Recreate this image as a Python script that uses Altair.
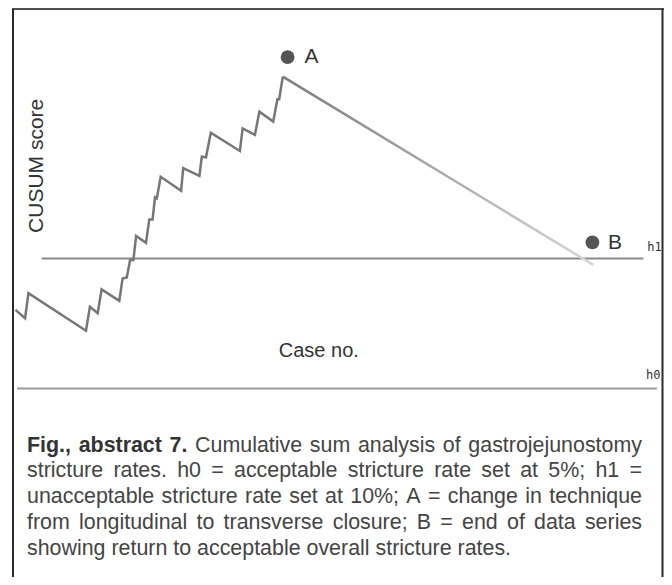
import altair as alt
import pandas as pd

# ---- data (x: case number, y: CUSUM score) ----
case_no = [-0.4, 2.8, 3.9, 23.1, 24.4, 27.0, 28.3, 34.2, 35.3, 36.7, 37.8, 38.9,
           39.8, 43.1, 44.2, 45.3, 46.1, 46.7, 48.0, 54.8, 55.5, 60.9, 61.7, 63.1,
           64.7, 74.4, 75.3, 79.4, 80.9, 85.5, 86.9, 87.5, 88.7, 192.2]
cusum = [0.52, 0.20, 1.16, -0.28, 0.64, 0.39, 1.31, 0.87, 1.73, 1.77, 2.44, 2.44,
         3.36, 3.10, 4.00, 4.00, 4.85, 4.81, 5.64, 5.10, 5.97, 5.67, 6.41, 6.39,
         7.33, 6.63, 7.50, 7.25, 8.14, 7.76, 8.62, 8.62, 9.49, 2.25]
peak_index = 32

limit_names = ["h1", "h0"]
limit_values = [2.5, -2.5]
limit_start = [8.3, 0.1]
limit_end = [208.9, 213.4]
limit_label_x = [210.2, 209.8]
limit_label_y = [2.95, -1.97]

marker_names = ["A", "B"]
marker_x = [90.3, 191.9]
marker_y = [10.24, 3.12]
marker_label_x = [95.9, 197.1]
marker_label_y = [10.23, 3.11]

x_title = "Case no."
y_title = "CUSUM score"

caption_lines = [
    [("Fig.,", True), ("abstract", True), ("7.", True), ("Cumulative", False),
     ("sum", False), ("analysis", False), ("of", False), ("gastrojejunostomy", False)],
    [(w, False) for w in "stricture rates. h0 = acceptable stricture rate set at 5%; h1 =".split()],
    [(w, False) for w in "unacceptable stricture rate set at 10%; A = change in technique".split()],
    [(w, False) for w in "from longitudinal to transverse closure; B = end of data series".split()],
    [(w, False) for w in "showing return to acceptable overall stricture rates.".split()],
]

# ---- layout ----
W, H = 650, 568
X_DOM = [-1.233, 215.433]
Y_DOM = [-9.754, 12.092]
FONT = "Liberation Sans"
CAP_SIZE = 21.4

REG = dict(zip("abcdefghijklmnopqrstuvwxyz",
               [556, 556, 500, 556, 556, 278, 556, 556, 222, 222, 500, 222, 833,
                556, 556, 556, 556, 333, 500, 278, 556, 500, 722, 500, 500, 500]))
REG.update({"A": 667, "B": 667, "C": 722, "F": 611, ".": 278, ",": 278, ";": 278,
            "=": 584, "%": 889, " ": 278})
REG.update({d: 556 for d in "0123456789"})
BOLD = {"F": 611, "i": 278, "g": 611, ".": 278, ",": 278, "a": 556, "b": 611,
        "s": 556, "t": 333, "r": 389, "c": 556, "7": 556, " ": 278}


def width(word, bold):
    table = BOLD if bold else REG
    return sum(table.get(ch, 556) for ch in word) / 1000.0 * CAP_SIZE


left_px, right_px = 14.0, 629.0
base_y = [442.5, 468.4, 494.3, 520.2, 546.1]
rows = []
for i, line in enumerate(caption_lines):
    widths = [width(w, b) for w, b in line]
    if i < len(caption_lines) - 1:
        gap = (right_px - left_px - sum(widths)) / (len(line) - 1)
    else:
        gap = 0.278 * CAP_SIZE
    x = left_px
    for (w, b), wd in zip(line, widths):
        rows.append({"word": w, "bold": b, "px": x, "py": base_y[i]})
        x += wd + gap
cap_df = pd.DataFrame(rows)

xs = alt.Scale(domain=X_DOM, nice=False, zero=False)
ys = alt.Scale(domain=Y_DOM, nice=False, zero=False)

one = pd.DataFrame({"k": [0]})

border_top = alt.Chart(one).mark_rule(color="#505050", strokeWidth=2).encode(
    x=alt.value(-1), x2=alt.value(W + 1), y=alt.value(0))
border_left = alt.Chart(one).mark_rule(color="#2a2a2a", strokeWidth=2).encode(
    x=alt.value(0), y=alt.value(0), y2=alt.value(H))
border_right = alt.Chart(one).mark_rule(color="#2a2a2a", strokeWidth=2).encode(
    x=alt.value(W - 0.5), y=alt.value(0), y2=alt.value(H))

lim_df = pd.DataFrame({"name": limit_names, "value": limit_values,
                       "start": limit_start, "end": limit_end,
                       "lx": limit_label_x, "ly": limit_label_y})
h_rules = alt.Chart(lim_df).mark_rule(strokeWidth=2).encode(
    x=alt.X("start:Q", scale=xs, axis=None),
    x2="end:Q",
    y=alt.Y("value:Q", scale=ys, axis=None),
    color=alt.Color("name:N", scale=alt.Scale(domain=["h1", "h0"],
                                              range=["#8a8a8a", "#9c9c9c"]),
                    legend=None),
)
h_labels = alt.Chart(lim_df).mark_text(
    align="left", baseline="middle", font="DejaVu Sans Mono", fontSize=12,
    color="#333333").encode(
    x=alt.X("lx:Q", scale=xs, axis=None),
    y=alt.Y("ly:Q", scale=ys, axis=None),
    text="name:N",
)

df = pd.DataFrame({"case": case_no, "score": cusum})
before = df.iloc[: peak_index + 1]
after = df.iloc[peak_index:]

line_before = alt.Chart(before).mark_line(color="#767676", strokeWidth=2.5,
                                          strokeJoin="miter").encode(
    x=alt.X("case:Q", scale=xs, axis=None),
    y=alt.Y("score:Q", scale=ys, axis=None),
)
line_after = alt.Chart(after).mark_line(
    strokeWidth=2.5,
    color=alt.Gradient(gradient="linear",
                       stops=[alt.GradientStop(color="#7c7c7c", offset=0),
                              alt.GradientStop(color="#d6d6d6", offset=1)],
                       x1=0, x2=1, y1=0, y2=0),
).encode(
    x=alt.X("case:Q", scale=xs, axis=None),
    y=alt.Y("score:Q", scale=ys, axis=None),
)

mk_df = pd.DataFrame({"name": marker_names, "x": marker_x, "y": marker_y,
                      "lx": marker_label_x, "ly": marker_label_y})
dots = alt.Chart(mk_df).mark_circle(size=190, color="#555555", opacity=1).encode(
    x=alt.X("x:Q", scale=xs, axis=None),
    y=alt.Y("y:Q", scale=ys, axis=None),
)
dot_labels = alt.Chart(mk_df).mark_text(
    align="left", baseline="middle", font=FONT, fontSize=21,
    color="#333333").encode(
    x=alt.X("lx:Q", scale=xs, axis=None),
    y=alt.Y("ly:Q", scale=ys, axis=None),
    text="name:N",
)

titles_df = pd.DataFrame({"t": [x_title], "x": [100.7], "y": [-1.05]})
x_title_mark = alt.Chart(titles_df).mark_text(
    align="center", baseline="middle", font=FONT, fontSize=20,
    color="#333333").encode(
    x=alt.X("x:Q", scale=xs, axis=None),
    y=alt.Y("y:Q", scale=ys, axis=None),
    text="t:N",
)
ytitle_df = pd.DataFrame({"t": [y_title], "x": [6.93], "y": [6.06]})
y_title_mark = alt.Chart(ytitle_df).mark_text(
    align="center", baseline="middle", font=FONT, fontSize=21, angle=270,
    color="#333333").encode(
    x=alt.X("x:Q", scale=xs, axis=None),
    y=alt.Y("y:Q", scale=ys, axis=None),
    text="t:N",
)

cap_bold = alt.Chart(cap_df[cap_df["bold"]]).mark_text(
    align="left", baseline="alphabetic", font=FONT, fontSize=CAP_SIZE,
    fontWeight="bold", color="#333333").encode(
    x=alt.X("px:Q", scale=None, axis=None),
    y=alt.Y("py:Q", scale=None, axis=None),
    text="word:N",
)
cap_reg = alt.Chart(cap_df[~cap_df["bold"]]).mark_text(
    align="left", baseline="alphabetic", font=FONT, fontSize=CAP_SIZE,
    color="#444444").encode(
    x=alt.X("px:Q", scale=None, axis=None),
    y=alt.Y("py:Q", scale=None, axis=None),
    text="word:N",
)

chart = alt.layer(
    border_top, border_left, border_right,
    h_rules, h_labels, line_before, line_after, dots, dot_labels,
    x_title_mark, y_title_mark, cap_bold, cap_reg,
).resolve_scale(x="shared", y="shared").properties(
    width=W, height=H,
    autosize=alt.AutoSizeParams(type="none"),
    padding={"left": 5, "top": 1, "right": 1, "bottom": 0},
).configure_view(stroke=None)

chart.save("out.html", embed_options={"renderer": "svg", "actions": False})
